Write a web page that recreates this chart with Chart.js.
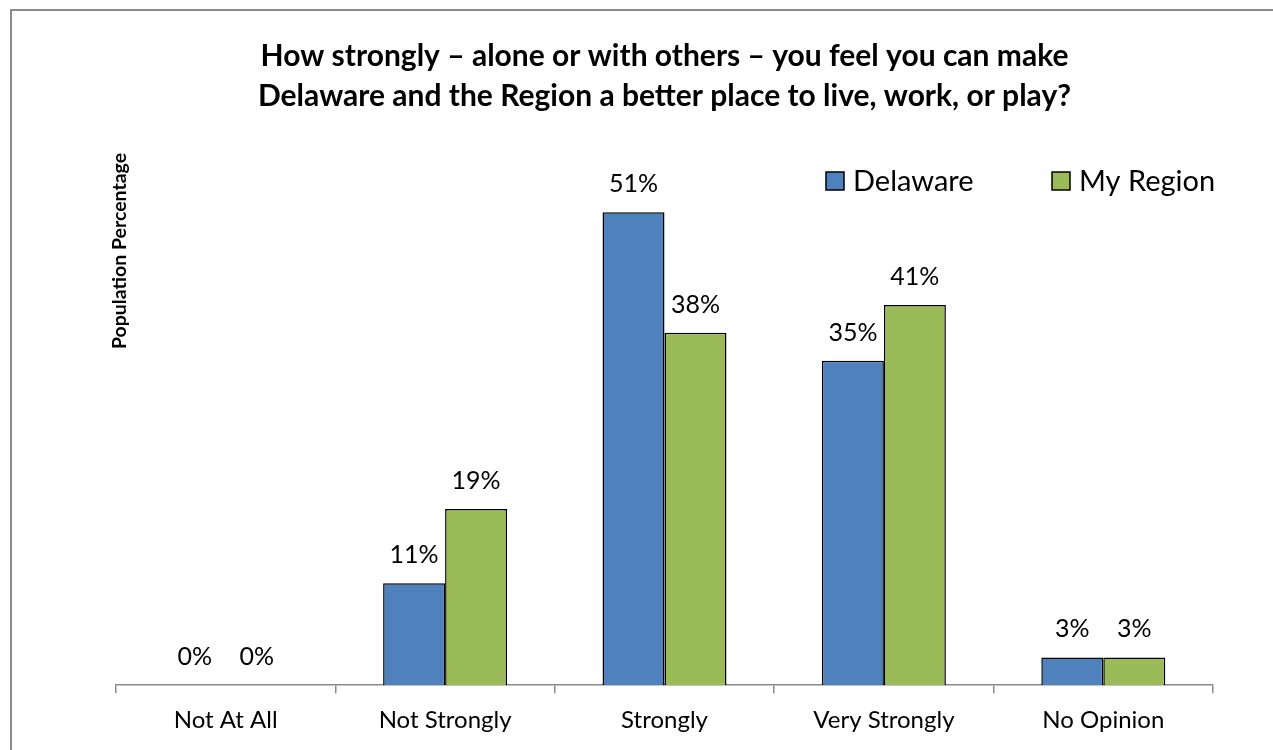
<!DOCTYPE html>
<html>
<head>
<meta charset="utf-8">
<script src="https://cdn.jsdelivr.net/npm/chart.js@4.4.0/dist/chart.umd.min.js"></script>
<style>
  html, body { margin: 0; padding: 0; background: #fff; overflow: hidden; }
  #frame { position: absolute; left: 10px; top: 9px; width: 1300px; height: 800px; border: 2px solid #8a8a8a; }
  #chart { position: absolute; left: 0; top: 0; }
</style>
</head>
<body>
<div id="frame"></div>
<canvas id="chart" width="1273" height="750"></canvas>
<script>
// categories and values (percent)
const categories = ['Not At All', 'Not Strongly', 'Strongly', 'Very Strongly', 'No Opinion'];
const delaware = [0, 11, 51, 35, 3];
const myRegion = [0, 19, 38, 41, 3];
const titleLines = ['How strongly \u2013 alone or with others \u2013 you feel you can make',
                    'Delaware and the Region a better place to live, work, or play?'];

const FONT = 'Lato, "Open Sans", sans-serif';

// etiquettes de valeur au-dessus des barres
const valueLabels = {
  id: 'valueLabels',
  afterDatasetsDraw(chart) {
    const ctx = chart.ctx;
    ctx.save();
    ctx.font = '25px ' + FONT;
    ctx.fillStyle = '#000';
    ctx.textAlign = 'center';
    ctx.textBaseline = 'middle';
    chart.data.datasets.forEach((ds, i) => {
      chart.getDatasetMeta(i).data.forEach((bar, j) => {
        ctx.fillText(ds.data[j] + '%', bar.x, bar.y - 28);
      });
    });
    ctx.restore();
  }
};

// titre de l'axe Y (placé en haut comme dans l'original)
const yTitle = {
  id: 'yTitle',
  afterDraw(chart) {
    const ctx = chart.ctx;
    ctx.save();
    ctx.translate(120, 251);
    ctx.rotate(-Math.PI / 2);
    ctx.font = 'bold 19.5px ' + FONT;
    ctx.fillStyle = '#000';
    ctx.textAlign = 'center';
    ctx.textBaseline = 'middle';
    ctx.fillText('Population Percentage', 0, 0);
    ctx.restore();
  }
};

// légende en haut à droite, dans la zone du graphique
const legendBox = {
  id: 'legendBox',
  afterDraw(chart) {
    const ctx = chart.ctx;
    const xs = [826, 1052];
    ctx.save();
    ctx.font = '29px ' + FONT;
    ctx.textBaseline = 'middle';
    ctx.textAlign = 'left';
    chart.data.datasets.forEach((ds, i) => {
      ctx.fillStyle = ds.backgroundColor;
      ctx.fillRect(xs[i], 172, 18, 18);
      ctx.strokeStyle = '#000';
      ctx.lineWidth = 1.5;
      ctx.strokeRect(xs[i], 172, 18, 18);
      ctx.fillStyle = '#000';
      ctx.fillText(ds.label, xs[i] + 27, 182);
    });
    ctx.restore();
  }
};

new Chart(document.getElementById('chart').getContext('2d'), {
  type: 'bar',
  data: {
    labels: categories,
    datasets: [
      { label: 'Delaware', data: delaware, backgroundColor: '#4F81BD', borderColor: '#000', borderWidth: 1.5 },
      { label: 'My Region', data: myRegion, backgroundColor: '#9BBB59', borderColor: '#000', borderWidth: 1.5 }
    ]
  },
  options: {
    responsive: false,
    animation: false,
    layout: { padding: { left: 116, right: 60, top: 26, bottom: 2 } },
    datasets: { bar: { barPercentage: 1, categoryPercentage: 0.565 } },
    scales: {
      y: { display: false, min: 0, max: 60 },
      x: {
        grid: { display: true, drawOnChartArea: false, offset: true, tickLength: 8, color: '#8a8a8a', lineWidth: 1.5 },
        border: { display: true, color: '#8a8a8a', width: 1.5 },
        ticks: { color: '#000', font: { family: FONT, size: 24 }, padding: 13 }
      }
    },
    plugins: {
      title: {
        display: true,
        text: titleLines,
        color: '#000',
        font: { family: FONT, size: 30, weight: 'bold', lineHeight: 1.33 },
        padding: { top: 10, bottom: 13 }
      },
      legend: { display: false },
      tooltip: { enabled: false }
    }
  },
  plugins: [valueLabels, yTitle, legendBox]
});
</script>
</body>
</html>
